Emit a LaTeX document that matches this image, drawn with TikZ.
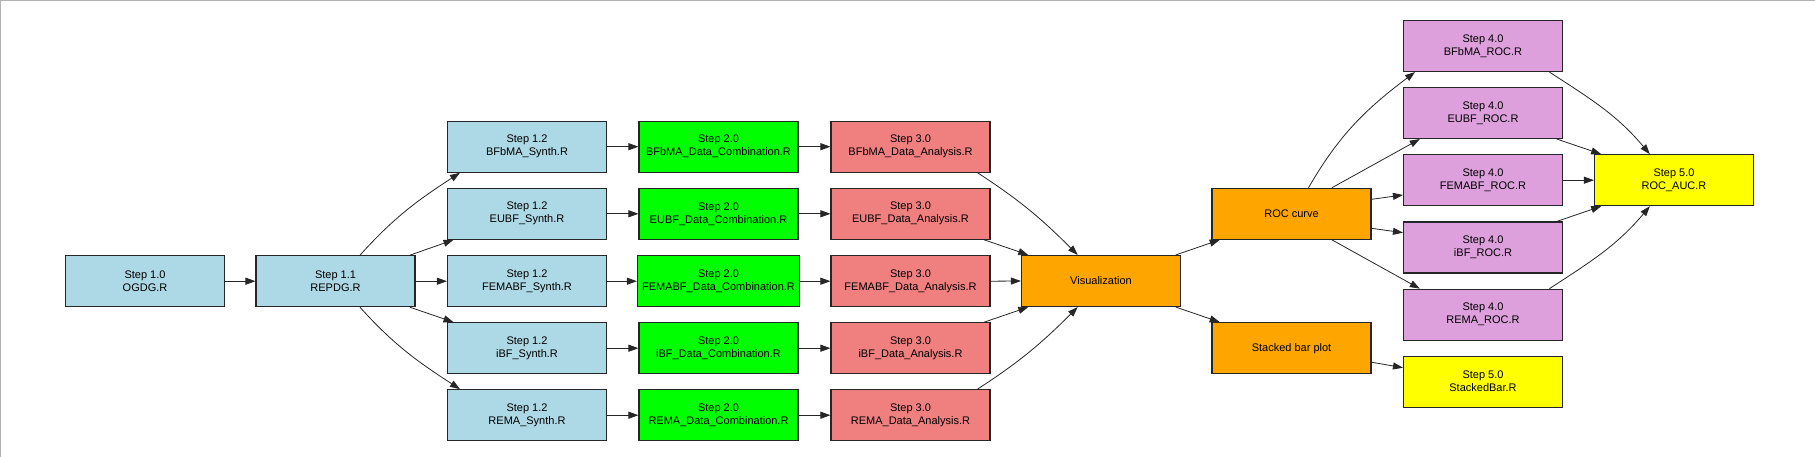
\documentclass[tikz,border=0pt]{standalone}
\usepackage{fontspec}
\setmainfont{Liberation Sans}
\usetikzlibrary{arrows.meta}
\definecolor{synblue}{HTML}{ADD8E6}
\definecolor{combgreen}{HTML}{00FF00}
\definecolor{anared}{HTML}{F08080}
\definecolor{visorange}{HTML}{FFA500}
\definecolor{rocplum}{HTML}{DDA0DD}
\definecolor{aucyellow}{HTML}{FFFF00}
\begin{document}
\begin{tikzpicture}[x=1pt,y=1pt,>={Triangle[length=10pt,width=7pt]},
	box/.style={draw=black!85,line width=1.1pt,minimum width=159pt,
		minimum height=51pt,inner sep=0pt,align=center,
		font=\fontsize{11}{13}\selectfont},
	edge/.style={->,line width=0.8pt,color=black!85}]
\useasboundingbox (0,0) rectangle (1815,-457);
\draw[color=black!30,line width=1pt] (0.5,-457)--(0.5,-0.5)--(1815,-0.5);
\def\xa{527}
\def\xb{718.5}
\def\xc{910.5}
\def\xd{1483}
% step 1
\node[box,fill=synblue] (s10) at (145,-281.2) {Step 1.0\\OGDG.R};
\node[box,fill=synblue] (s11) at (335.5,-281.2) {Step 1.1\\REPDG.R};
\node[box,fill=synblue] (syn1) at (\xa,-146.7) {Step 1.2\\BFbMA\_Synth.R};
\node[box,fill=synblue] (syn2) at (\xa,-213.8) {Step 1.2\\EUBF\_Synth.R};
\node[box,fill=synblue] (syn3) at (\xa,-281.2) {Step 1.2\\FEMABF\_Synth.R};
\node[box,fill=synblue] (syn4) at (\xa,-348.2) {Step 1.2\\iBF\_Synth.R};
\node[box,fill=synblue] (syn5) at (\xa,-415.2) {Step 1.2\\REMA\_Synth.R};
% step 2
\node[box,fill=combgreen] (comb1) at (\xb,-146.7) {Step 2.0\\BFbMA\_Data\_Combination.R};
\node[box,fill=combgreen] (comb2) at (\xb,-213.8) {Step 2.0\\EUBF\_Data\_Combination.R};
\node[box,fill=combgreen,minimum width=162pt] (comb3) at (\xb,-281.2) {Step 2.0\\FEMABF\_Data\_Combination.R};
\node[box,fill=combgreen] (comb4) at (\xb,-348.2) {Step 2.0\\iBF\_Data\_Combination.R};
\node[box,fill=combgreen] (comb5) at (\xb,-415.2) {Step 2.0\\REMA\_Data\_Combination.R};
% step 3
\node[box,fill=anared] (ana1) at (\xc,-146.7) {Step 3.0\\BFbMA\_Data\_Analysis.R};
\node[box,fill=anared] (ana2) at (\xc,-213.8) {Step 3.0\\EUBF\_Data\_Analysis.R};
\node[box,fill=anared] (ana3) at (\xc,-281.2) {Step 3.0\\FEMABF\_Data\_Analysis.R};
\node[box,fill=anared] (ana4) at (\xc,-348.2) {Step 3.0\\iBF\_Data\_Analysis.R};
\node[box,fill=anared] (ana5) at (\xc,-415.2) {Step 3.0\\REMA\_Data\_Analysis.R};
% plots
\node[box,fill=visorange] (vis) at (1101,-281) {Visualization};
\node[box,fill=visorange] (roc) at (1291.5,-213.8) {ROC curve};
\node[box,fill=visorange] (bar) at (1291.5,-348.2) {Stacked bar plot};
% step 4 and 5
\node[box,fill=rocplum] (rocA) at (\xd,-46) {Step 4.0\\BFbMA\_ROC.R};
\node[box,fill=rocplum] (rocB) at (\xd,-113) {Step 4.0\\EUBF\_ROC.R};
\node[box,fill=rocplum] (rocC) at (\xd,-180.2) {Step 4.0\\FEMABF\_ROC.R};
\node[box,fill=rocplum] (rocD) at (\xd,-247.5) {Step 4.0\\iBF\_ROC.R};
\node[box,fill=rocplum] (rocE) at (\xd,-314.7) {Step 4.0\\REMA\_ROC.R};
\node[box,fill=aucyellow] (sbar) at (\xd,-381.7) {Step 5.0\\StackedBar.R};
\node[box,fill=aucyellow] (auc) at (1674,-180.2) {Step 5.0\\ROC\_AUC.R};

\draw[edge] (s10.east)--(s11.west);
\draw[edge] ([xshift=24.5]s11.north) to[out=48,in=213] ([xshift=-67]syn1.south);
\draw[edge] ([xshift=74.5]s11.north)--([xshift=-73.5]syn2.south);
\draw[edge] (s11.east)--(syn3.west);
\draw[edge] ([xshift=74.5]s11.south)--([xshift=-73.5]syn4.north);
\draw[edge] ([xshift=24.5]s11.south) to[out=-48,in=147] ([xshift=-67]syn5.north);

\draw[edge] (syn1.east)--(comb1.west);
\draw[edge] (syn2.east)--(comb2.west);
\draw[edge] (syn3.east)--(comb3.west);
\draw[edge] (syn4.east)--(comb4.west);
\draw[edge] (syn5.east)--(comb5.west);
\draw[edge] (comb1.east)--(ana1.west);
\draw[edge] (comb2.east)--(ana2.west);
\draw[edge] (comb3.east)--(ana3.west);
\draw[edge] (comb4.east)--(ana4.west);
\draw[edge] (comb5.east)--(ana5.west);

\draw[edge] ([xshift=67]ana1.south) to[out=-33,in=135] ([xshift=-23.3]vis.north);
\draw[edge] ([xshift=73.7]ana2.south)--([xshift=-72.7]vis.north);
\draw[edge] (ana3.east)--(vis.west);
\draw[edge] ([xshift=73.7]ana4.north)--([xshift=-72.7]vis.south);
\draw[edge] ([xshift=67]ana5.north) to[out=33,in=-135] ([xshift=-23.3]vis.south);

\draw[edge] ([xshift=74.7]vis.north)--([xshift=-71.8]roc.south);
\draw[edge] ([xshift=74.7]vis.south)--([xshift=-71.8]bar.north);

\draw[edge] ([xshift=17]roc.north) to[out=60,in=217] ([xshift=-68]rocA.south);
\draw[edge] ([xshift=40.4]roc.north)--([xshift=-63.2]rocB.south);
\draw[edge] ([yshift=14.5]roc.east)--([yshift=-14.8]rocC.west);
\draw[edge] ([yshift=-14.5]roc.east)--([yshift=14.8]rocD.west);
\draw[edge] ([xshift=40.4]roc.south)--([xshift=-63.2]rocE.north);
\draw[edge] ([yshift=-14]bar.east)--([yshift=14]sbar.west);

\draw[edge] ([xshift=66.4]rocA.south) to[out=-33,in=130] ([xshift=-24.2]auc.north);
\draw[edge] ([xshift=73.7]rocB.south)--([xshift=-72.8]auc.north);
\draw[edge] (rocC.east)--(auc.west);
\draw[edge] ([xshift=73.7]rocD.north)--([xshift=-72.8]auc.south);
\draw[edge] ([xshift=66.4]rocE.north) to[out=33,in=-130] ([xshift=-24.2]auc.south);
\end{tikzpicture}
\end{document}
